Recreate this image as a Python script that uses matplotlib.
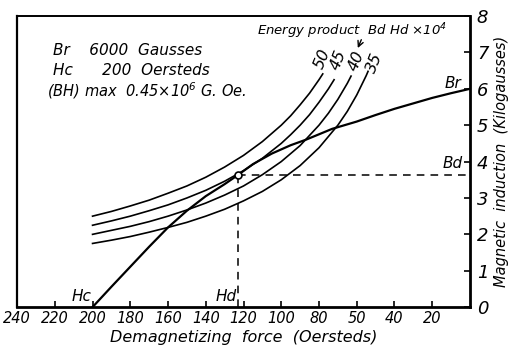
import matplotlib.pyplot as plt

# demagnetization curve (H in Oersteds, B in kilogausses)
demag_h = [200, 190, 180, 170, 160, 150, 140, 130, 123, 115, 105, 95, 87, 80, 73, 60, 50, 40, 30, 20, 10, 0]
demag_b = [0.0, 0.56, 1.11, 1.66, 2.19, 2.65, 3.05, 3.38, 3.63, 3.93, 4.22, 4.45, 4.6, 4.75, 4.9, 5.1, 5.28, 5.45, 5.6, 5.75, 5.88, 6.0]

# energy product curves Bd*Hd x 10^4
energy_labels = ["50", "45", "40", "35"]
energy_h = [
    [200, 190, 180, 170, 160, 150, 140, 130, 120, 110, 100, 95, 90, 85, 80, 78],
    [200, 190, 180, 170, 160, 150, 140, 130, 120, 110, 100, 95, 90, 85, 80, 75, 72],
    [200, 190, 180, 170, 160, 150, 140, 130, 120, 110, 100, 90, 80, 75, 70, 65, 63],
    [200, 190, 180, 170, 160, 150, 140, 130, 120, 110, 100, 90, 80, 70, 65, 60, 55, 54],
]
energy_b = [
    [2.5, 2.63, 2.78, 2.94, 3.13, 3.33, 3.57, 3.85, 4.17, 4.55, 5.0, 5.26, 5.56, 5.88, 6.25, 6.41],
    [2.25, 2.37, 2.5, 2.65, 2.81, 3.0, 3.21, 3.46, 3.75, 4.09, 4.5, 4.74, 5.0, 5.29, 5.63, 6.0, 6.25],
    [2.0, 2.11, 2.22, 2.35, 2.5, 2.67, 2.86, 3.08, 3.33, 3.64, 4.0, 4.44, 5.0, 5.33, 5.71, 6.15, 6.35],
    [1.75, 1.84, 1.94, 2.06, 2.19, 2.33, 2.5, 2.69, 2.92, 3.18, 3.5, 3.89, 4.38, 5.0, 5.38, 5.83, 6.36, 6.48],
]
label_pos = [(78, 6.82), (70, 6.8), (60, 6.76), (50.5, 6.7)]

hd = 123
bd = 3.63

x_ticks = [240, 220, 200, 180, 160, 140, 120, 100, 80, 60, 40, 20]
x_ticklabels = ["240", "220", "200", "180", "160", "140", "120", "100", "80", "50", "40", "20"]
y_ticks = [0, 1, 2, 3, 4, 5, 6, 7, 8]

plt.rcParams["font.family"] = ["DejaVu Sans"]
plt.rcParams["font.style"] = "italic"

fig = plt.figure(figsize=(5.17, 3.49), dpi=100)
ax = fig.add_axes([0.033, 0.12, 0.876, 0.834])

ax.plot(demag_h, demag_b, color="black", lw=1.6)
for h, b in zip(energy_h, energy_b):
    ax.plot(h, b, color="black", lw=1.2)
for lab, (x, y) in zip(energy_labels, label_pos):
    ax.text(x, y, lab, rotation=68, ha="center", va="center", fontsize=11.5)

ax.plot([hd, 0], [bd, bd], color="black", lw=1.1, ls=(0, (5, 4)))
ax.plot([hd, hd], [0, bd], color="black", lw=1.1, ls=(0, (5, 4)))
ax.plot([hd], [bd], marker="o", ms=5, mfc="white", mec="black", mew=1.2)

ax.text(113, 7.58, "Energy product  Bd Hd \u00d710$^4$", fontsize=9.5, ha="left", va="center")
ax.annotate("", xy=(60, 7.05), xytext=(57, 7.42),
            arrowprops=dict(arrowstyle="->", color="black", lw=1))

ax.text(221, 7.05, "Br    6000  Gausses", fontsize=11, ha="left", va="center")
ax.text(221, 6.5, "Hc      200  Oersteds", fontsize=11, ha="left", va="center")
ax.text(224, 5.95, "(BH) max  0.45\u00d710$^6$ G. Oe.", fontsize=10.5, ha="left", va="center")

ax.text(206, 0.3, "Hc", fontsize=11, ha="center", va="center")
ax.text(129, 0.3, "Hd", fontsize=11, ha="center", va="center")
ax.text(9, 6.15, "Br", fontsize=11, ha="center", va="center")
ax.text(9, 3.95, "Bd", fontsize=11, ha="center", va="center")

ax.set_xlim(240, 0)
ax.set_ylim(0, 8)
ax.set_xticks(x_ticks)
ax.set_xticklabels(x_ticklabels, fontsize=10.5)
ax.set_yticks(y_ticks)
ax.set_yticklabels([str(v) for v in y_ticks], fontsize=13)
ax.yaxis.tick_right()
ax.yaxis.set_label_position("right")
ax.tick_params(direction="in", length=4, width=1.2, pad=3)
ax.tick_params(axis="y", pad=5)

ax.set_xlabel("Demagnetizing  force  (Oersteds)", fontsize=11.5, labelpad=3)
ax.set_ylabel("Magnetic  induction  (Kilogausses)", fontsize=10.5, labelpad=4, rotation=90)

ax.spines["right"].set_linewidth(2)
ax.spines["bottom"].set_linewidth(2)
ax.spines["left"].set_linewidth(1.6)
ax.spines["top"].set_linewidth(1.4)

fig.savefig("out.png", dpi=100)
